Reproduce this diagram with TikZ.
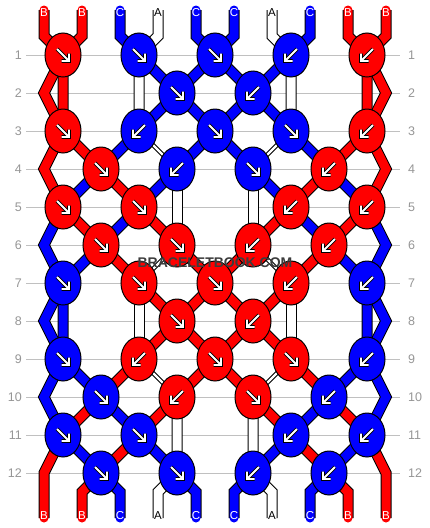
\documentclass[tikz,border=0pt]{standalone}
\usepackage{fontspec}
\setmainfont{Liberation Sans}
\usetikzlibrary{shapes.geometric}
\definecolor{bred}{RGB}{255,0,0}
\definecolor{bblue}{RGB}{0,0,255}
\definecolor{gridgray}{RGB}{192,192,192}
\definecolor{numgray}{RGB}{150,150,150}
\definecolor{wmgray}{RGB}{60,60,60}
\tikzset{
  knot/.style={ellipse, draw=black, line width=1pt, minimum width=36pt, minimum height=44pt, inner sep=0pt},
  rnum/.style={text=numgray, font=\fontsize{12.5}{13}\selectfont, inner sep=0pt},
  lbl/.style={font=\fontsize{11.5}{12}\selectfont, inner sep=0pt},
  gridline/.style={draw=gridgray, line width=1pt},
  strandin/.style={line width=9pt, line join=miter, line cap=round},
  whitefull/.style={draw=white, line width=9pt, line join=miter, line cap=round, preaction={draw=black, line width=11pt}},
  whitethin/.style={draw=white, line width=2.4pt, preaction={draw=black, line width=4.4pt}},
  arrowout/.style={draw=black, line width=3.6pt, line cap=square, line join=miter},
  arrowin/.style={draw=white, line width=1.8pt, line cap=square, line join=miter},
  wmtext/.style={font=\fontsize{14}{14}\selectfont\bfseries, inner sep=0pt}
}
\newcommand\drawstrand[4]{%
  \draw[strandin, draw=#1, preaction={draw=black, line width=11pt}]
    ({44+19*#2},10) -- ({44+19*#2},36)
    \foreach \gi [count=\ri] in {#3} { -- (c-\ri-\gi) }
    -- ({44+19*#4},492) -- ({44+19*#4},518);
}
\begin{document}
\begin{tikzpicture}[x=1pt,y=-1pt]
\useasboundingbox (0,0) rectangle (430,528);
\fill[white] (0,0) rectangle (430,528);
% grid coordinates
\foreach \ri in {1,...,12} {
  \foreach \gi in {0,...,18} {
    \coordinate (c-\ri-\gi) at ({44+19*\gi},{17+38*\ri});
  }
}
% row numbers and lines
\foreach \ri in {1,...,12} {
  \node[rnum, anchor=east] (ln\ri) at (22,{17+38*\ri}) {\ri};
  \node[rnum, anchor=west] (rn\ri) at (408,{17+38*\ri}) {\ri};
  \draw[gridline, shorten <=4pt, shorten >=8pt] (ln\ri.east) -- (rn\ri.west);
}
% coloured strands
\drawstrand{bred}{0}{1,1,1,0,1,3,5,7,9,11,13,15}{16}
\drawstrand{bred}{2}{1,0,1,3,5,7,9,11,13,15,17,18}{18}
\drawstrand{bblue}{4}{5,7,9,11,13,15,17,18,17,15,13,11}{10}
\drawstrand{bblue}{8}{9,11,13,15,17,18,17,17,17,18,17,15}{14}
\drawstrand{bblue}{10}{9,7,5,3,1,0,1,1,1,0,1,3}{4}
\drawstrand{bblue}{14}{13,11,9,7,5,3,1,0,1,3,5,7}{8}
\drawstrand{bred}{16}{17,18,17,15,13,11,9,7,5,3,1,0}{0}
\drawstrand{bred}{18}{17,17,17,18,17,15,13,11,9,7,5,3}{2}
% white strand A (left)
\draw[whitefull] (158,10) -- (158,36) -- (c-1-5) -- (c-2-5) -- (c-3-5);
\draw[whitethin] (c-3-5) -- (c-4-7);
\draw[whitefull] (c-4-7) -- (c-5-7) -- (c-6-7);
\draw[whitethin] (c-6-7) -- (c-7-5);
\draw[whitefull] (c-7-5) -- (c-8-5) -- (c-9-5);
\draw[whitethin] (c-9-5) -- (c-10-7);
\draw[whitefull] (c-10-7) -- (c-11-7) -- (c-12-7) -- (158,492) -- (158,518);
% white strand A (right)
\draw[whitefull] (272,10) -- (272,36) -- (c-1-13) -- (c-2-13) -- (c-3-13);
\draw[whitethin] (c-3-13) -- (c-4-11);
\draw[whitefull] (c-4-11) -- (c-5-11) -- (c-6-11);
\draw[whitethin] (c-6-11) -- (c-7-13);
\draw[whitefull] (c-7-13) -- (c-8-13) -- (c-9-13);
\draw[whitethin] (c-9-13) -- (c-10-11);
\draw[whitefull] (c-10-11) -- (c-11-11) -- (c-12-11) -- (272,492) -- (272,518);
% knots
\foreach \ri/\gi/\s/\c in {
  1/1/1/bred, 1/5/1/bblue, 1/9/1/bblue, 1/13/-1/bblue, 1/17/-1/bred,
  2/7/1/bblue, 2/11/-1/bblue,
  3/1/1/bred, 3/5/-1/bblue, 3/9/1/bblue, 3/13/1/bblue, 3/17/-1/bred,
  4/3/1/bred, 4/7/-1/bblue, 4/11/1/bblue, 4/15/-1/bred,
  5/1/1/bred, 5/5/1/bred, 5/13/-1/bred, 5/17/-1/bred,
  6/3/1/bred, 6/7/1/bred, 6/11/-1/bred, 6/15/-1/bred,
  7/1/1/bblue, 7/5/1/bred, 7/9/1/bred, 7/13/-1/bred, 7/17/-1/bblue,
  8/7/1/bred, 8/11/-1/bred,
  9/1/1/bblue, 9/5/-1/bred, 9/9/1/bred, 9/13/1/bred, 9/17/-1/bblue,
  10/3/1/bblue, 10/7/-1/bred, 10/11/1/bred, 10/15/-1/bblue,
  11/1/1/bblue, 11/5/1/bblue, 11/13/-1/bblue, 11/17/-1/bblue,
  12/3/1/bblue, 12/7/1/bblue, 12/11/-1/bblue, 12/15/-1/bblue} {
  \node[knot, fill=\c] (k-\ri-\gi) at (c-\ri-\gi) {};
  \begin{scope}[shift={(k-\ri-\gi.center)}, xscale=\s]
    \draw[arrowout] (-6,-6) -- (6,6) (6,-1.5) -- (6,6) -- (-1.5,6);
    \draw[arrowin] (-6,-6) -- (6,6) (6,-1.5) -- (6,6) -- (-1.5,6);
  \end{scope}
}
% end labels
\foreach \p/\t/\tc in {1/B/white, 2/B/white, 3/C/white, 4/A/black, 5/C/white,
  6/C/white, 7/A/black, 8/C/white, 9/B/white, 10/B/white} {
  \node[lbl, text=\tc] (top\p) at ({44+38*(\p-1)},12.5) {\t};
  \node[lbl, text=\tc] (bot\p) at ({44+38*(\p-1)},516) {\t};
}
% watermark
\node[wmtext, text=wmgray] (wm) at (215,263) {BRACELETBOOK.COM};
\end{tikzpicture}
\end{document}
